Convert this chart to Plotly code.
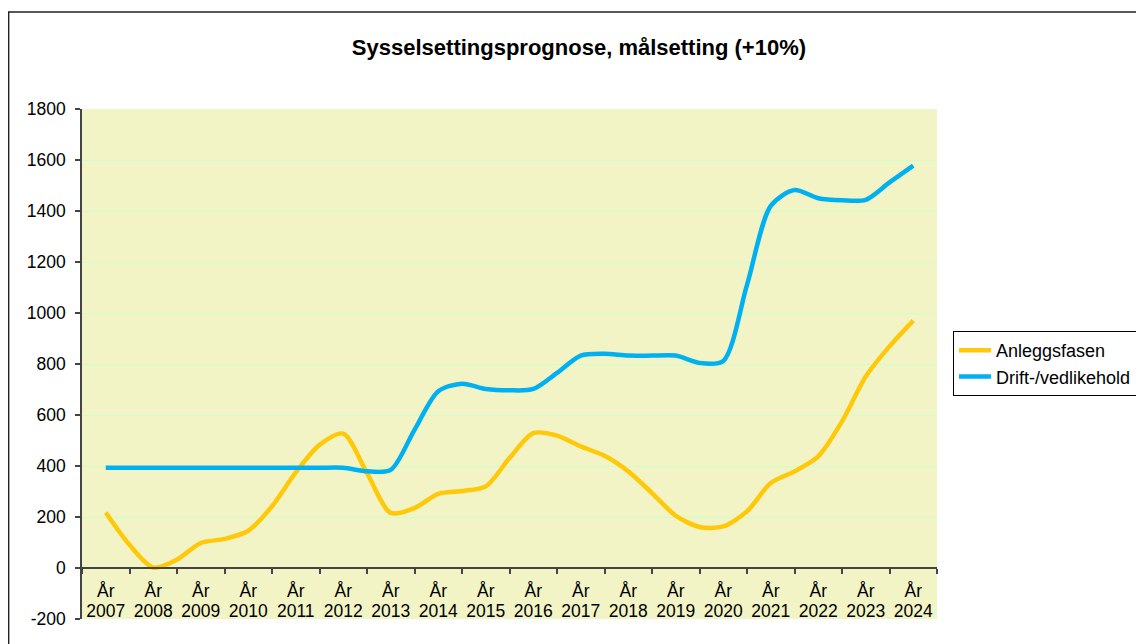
import plotly.graph_objects as go

# ---- data (half-year resolution) ----
x_points = [2007, 2007.5, 2008, 2008.5, 2009, 2009.5, 2010, 2010.5, 2011, 2011.5,
            2012, 2012.5, 2013, 2013.5, 2014, 2014.5, 2015, 2015.5, 2016, 2016.5,
            2017, 2017.5, 2018, 2018.5, 2019, 2019.5, 2020, 2020.5, 2021, 2021.5,
            2022, 2022.5, 2023, 2023.5, 2024]

anleggsfasen = [218, 91, 2, 33, 98, 114, 146, 242, 375, 483,
                527, 372, 216, 235, 291, 302, 320, 431, 529, 519,
                477, 440, 379, 294, 205, 161, 163, 222, 333, 379,
                438, 575, 751, 869, 970]

drift_vedlikehold = [393, 393, 393, 393, 393, 393, 393, 393, 393, 393,
                     393, 379, 385, 542, 693, 723, 702, 697, 702, 765,
                     833, 840, 833, 833, 833, 804, 812, 1110, 1420, 1482,
                     1450, 1442, 1444, 1512, 1578]

years = list(range(2007, 2025))
year_prefix = ["År" for y in years]
year_text = [str(y) for y in years]
boundaries = [y - 0.5 for y in years] + [years[-1] + 0.5]

y_ticks = [-200, 0, 200, 400, 600, 800, 1000, 1200, 1400, 1600, 1800]
y_tick_text = [str(v) for v in y_ticks]

series_names = ["Anleggsfasen", "Drift-/vedlikehold"]
series_colors = ["#FFC808", "#00B0F0"]

title_text = "Sysselsettingsprognose, målsetting (+10%)"

FONT = "Arial, 'Liberation Sans', sans-serif"
AXIS_COL = "#444444"

fig = go.Figure()
for name, vals, col in zip(series_names, [anleggsfasen, drift_vedlikehold], series_colors):
    fig.add_trace(go.Scatter(
        x=x_points, y=vals, name=name, mode="lines",
        line=dict(color=col, width=4.5, shape="spline", smoothing=0.8),
    ))

# empty carrier trace so that the second (year-number) label axis is drawn
fig.add_trace(go.Scatter(x=[], y=[], xaxis="x2", yaxis="y", mode="lines",
                         showlegend=False, hoverinfo="skip"))

fig.update_layout(
    width=1144, height=644,
    paper_bgcolor="white",
    plot_bgcolor="#F2F4C6",
    margin=dict(l=74, r=215, t=101, b=33),
    font=dict(family=FONT, color="black", size=17),
    title=dict(text="<b>" + title_text + "</b>", x=0.4991, xref="container",
               xanchor="center", y=0.9394, yanchor="middle",
               font=dict(family=FONT, size=22, color="black")),
    showlegend=True,
    legend=dict(xref="container", yref="container",
                x=0.826, xanchor="left", y=0.4985, yanchor="top",
                bgcolor="white", bordercolor="black", borderwidth=1,
                font=dict(family=FONT, size=18, color="black"),
                tracegroupgap=2, itemwidth=32),
    xaxis=dict(
        range=[2006.5, 2024.5],
        tickmode="array", tickvals=years, ticktext=year_prefix,
        ticks="", showgrid=False, zeroline=False,
        showline=True, linecolor=AXIS_COL, linewidth=1.5,
        anchor="free", position=0.1, ticklabelstandoff=7,
        tickfont=dict(family=FONT, size=17.5, color="black"),
        minor=dict(tickmode="array", tickvals=boundaries, ticks="outside",
                   ticklen=5, tickcolor=AXIS_COL, tickwidth=1.5, showgrid=False),
    ),
    xaxis2=dict(
        range=[2006.5, 2024.5], overlaying="x",
        tickmode="array", tickvals=years, ticktext=year_text,
        ticks="", showgrid=False, zeroline=False, showline=False,
        anchor="free", position=0.1, side="bottom", ticklabelstandoff=30,
        tickfont=dict(family=FONT, size=17.5, color="black"),
    ),
    yaxis=dict(
        range=[-200, 1800], tickmode="array",
        tickvals=y_ticks, ticktext=y_tick_text,
        ticks="outside", ticklen=5, tickcolor=AXIS_COL, tickwidth=1.5,
        showgrid=True, gridcolor="#CCFFCC", gridwidth=1,
        zeroline=False, ticklabelstandoff=6,
        showline=True, linecolor=AXIS_COL, linewidth=1.5,
        tickfont=dict(family=FONT, size=17.5, color="black"),
    ),
    shapes=[dict(type="rect", xref="paper", yref="paper",
                 x0=-0.0858, x1=1.3, y0=-0.1, y1=1.19,
                 line=dict(color="#222222", width=1.5), fillcolor="rgba(0,0,0,0)",
                 layer="below")],
)

fig.write_html("out.html")
